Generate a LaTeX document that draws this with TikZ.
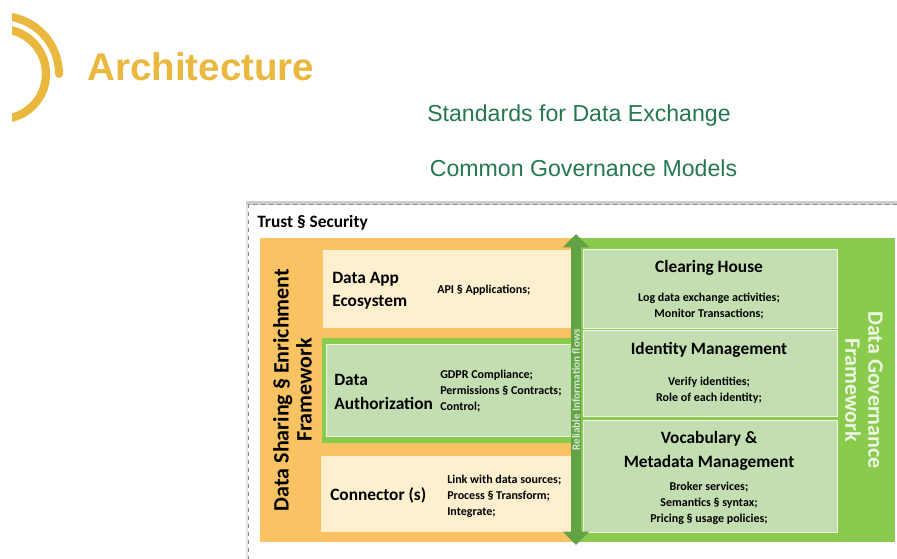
\documentclass[tikz,border=0pt]{standalone}
\usepackage{fontspec}
\setmainfont{Carlito}
\newfontfamily\titlefont{Liberation Sans}
\usetikzlibrary{arrows.meta, positioning, backgrounds}

\definecolor{goldline}{HTML}{EBB83F}
\definecolor{subgreen}{HTML}{24774F}
\definecolor{orangeback}{HTML}{F9C262}
\definecolor{creamback}{HTML}{FEF0CF}
\definecolor{greenback}{HTML}{8ACB4E}
\definecolor{paleback}{HTML}{C3DFB1}
\definecolor{flowgreen}{HTML}{62A345}

\begin{document}
\begin{tikzpicture}[x=0.75pt, y=-0.75pt]
    % Define the styles
    \tikzset{
        heading/.style = {font=\titlefont\fontsize{28.9}{32}\selectfont\bfseries, text=goldline, inner sep=0},
        subhead/.style = {font=\titlefont\fontsize{17.35}{20}\selectfont, text=subgreen, inner sep=0},
        label/.style = {font=\fontsize{13}{17.5}\selectfont\bfseries, inner sep=0, align=left},
        detail/.style = {font=\fontsize{9}{12}\selectfont\bfseries, inner sep=0, align=left},
        frame/.style = {font=\fontsize{16.5}{17.25}\selectfont\bfseries, inner sep=0, align=center},
        panel/.style = {draw=white!70!paleback, line width=0.6pt, fill=paleback},
    }
    \useasboundingbox (0,0) rectangle (897,559);

    % Logo arcs
    \begin{scope}
        \clip (12,0) rectangle (80,130);
        \draw[goldline, line width=6pt, line cap=round] (1,74) ++(-88:58) arc (-88:0:58);
        \draw[goldline, line width=6.2pt] (1,74) ++(-88:45) arc (-88:88:45);
    \end{scope}

    % Title lines
    \node [heading, anchor=base west] (title) at (87,81) {Architecture};
    \node [subhead] (standards) at (579,116) {Standards for Data Exchange};
    \node [subhead] (models) at (583.5,168) {Common Governance Models};

    % Outer frame
    \fill[black!20] (246,201) rectangle (897,205);
    \fill[black!10] (246,205) rectangle (248,559);
    \draw[black!45, dashed, line width=0.6pt] (897,204.5) -- (248.5,204.5) -- (248.5,559);
    \node [font=\fontsize{13}{15}\selectfont\bfseries, inner sep=0, anchor=west] (trust) at (257,223) {Trust § Security};

    % Background bands
    \fill[orangeback] (260,238) rectangle (575,542);
    \fill[greenback] (575,238) rectangle (895,542);

    % Left blocks
    \fill[creamback] (323,250) rectangle (572,328);
    \fill[greenback] (322,338) rectangle (572,443);
    \draw[panel] (326,344) rectangle (572,436);
    \fill[creamback] (321,456) rectangle (572,532);

    % Right blocks
    \draw[panel] (583,249) rectangle (837,328);
    \draw[panel] (583,330) rectangle (837,416);
    \draw[panel] (583,420) rectangle (837,532);

    % Left texts
    \node [frame, rotate=90] (sharing) at (292.5,390) {Data Sharing § Enrichment\\Framework};
    \node [label, anchor=west] (appname) at (332,291) {Data App\\Ecosystem};
    \node [detail, anchor=west] (appinfo) at (437,290) {API § Applications;};
    \node [label, anchor=west] (authname) at (334,392) {Data\\Authorization};
    \node [detail, anchor=west] (authinfo) at (440,391) {GDPR Compliance;\\Permissions § Contracts;\\Control;};
    \node [label, anchor=west] (connname) at (330,495.5) {Connector (s)};
    \node [detail, anchor=west] (conninfo) at (447,496) {Link with data sources;\\Process § Transform;\\Integrate;};

    % Right texts
    \node [label, align=center] (clearname) at (709,267.5) {Clearing House};
    \node [detail, align=center] (clearinfo) at (709,306) {Log data exchange activities;\\Monitor Transactions;};
    \node [label, align=center] (identname) at (709,349.5) {Identity Management};
    \node [detail, align=center] (identinfo) at (709,390) {Verify identities;\\Role of each identity;};
    \node [label, align=center] (vocabname) at (709,451) {Vocabulary \&\\Metadata Management};
    \node [detail, align=center] (vocabinfo) at (709,503) {Broker services;\\Semantics § syntax;\\Pricing § usage policies;};
    \node [frame, rotate=-90, text=white!85!greenback] (governance) at (864,390) {Data Governance\\Framework};

    % Reliable flows arrow
    \coordinate (flowtop) at (576,234);
    \coordinate (flowbottom) at (576,545);
    \draw[flowgreen, line width=7.5pt, {Triangle[length=10pt, width=19pt]}-{Triangle[length=10pt, width=19pt]}] (flowtop) -- (flowbottom);
    \node [rotate=90, font=\fontsize{8.3}{9}\selectfont\bfseries, text=white!75!flowgreen, inner sep=0] (flows) at (576,390) {Reliable Information flows};

\end{tikzpicture}
\end{document}
